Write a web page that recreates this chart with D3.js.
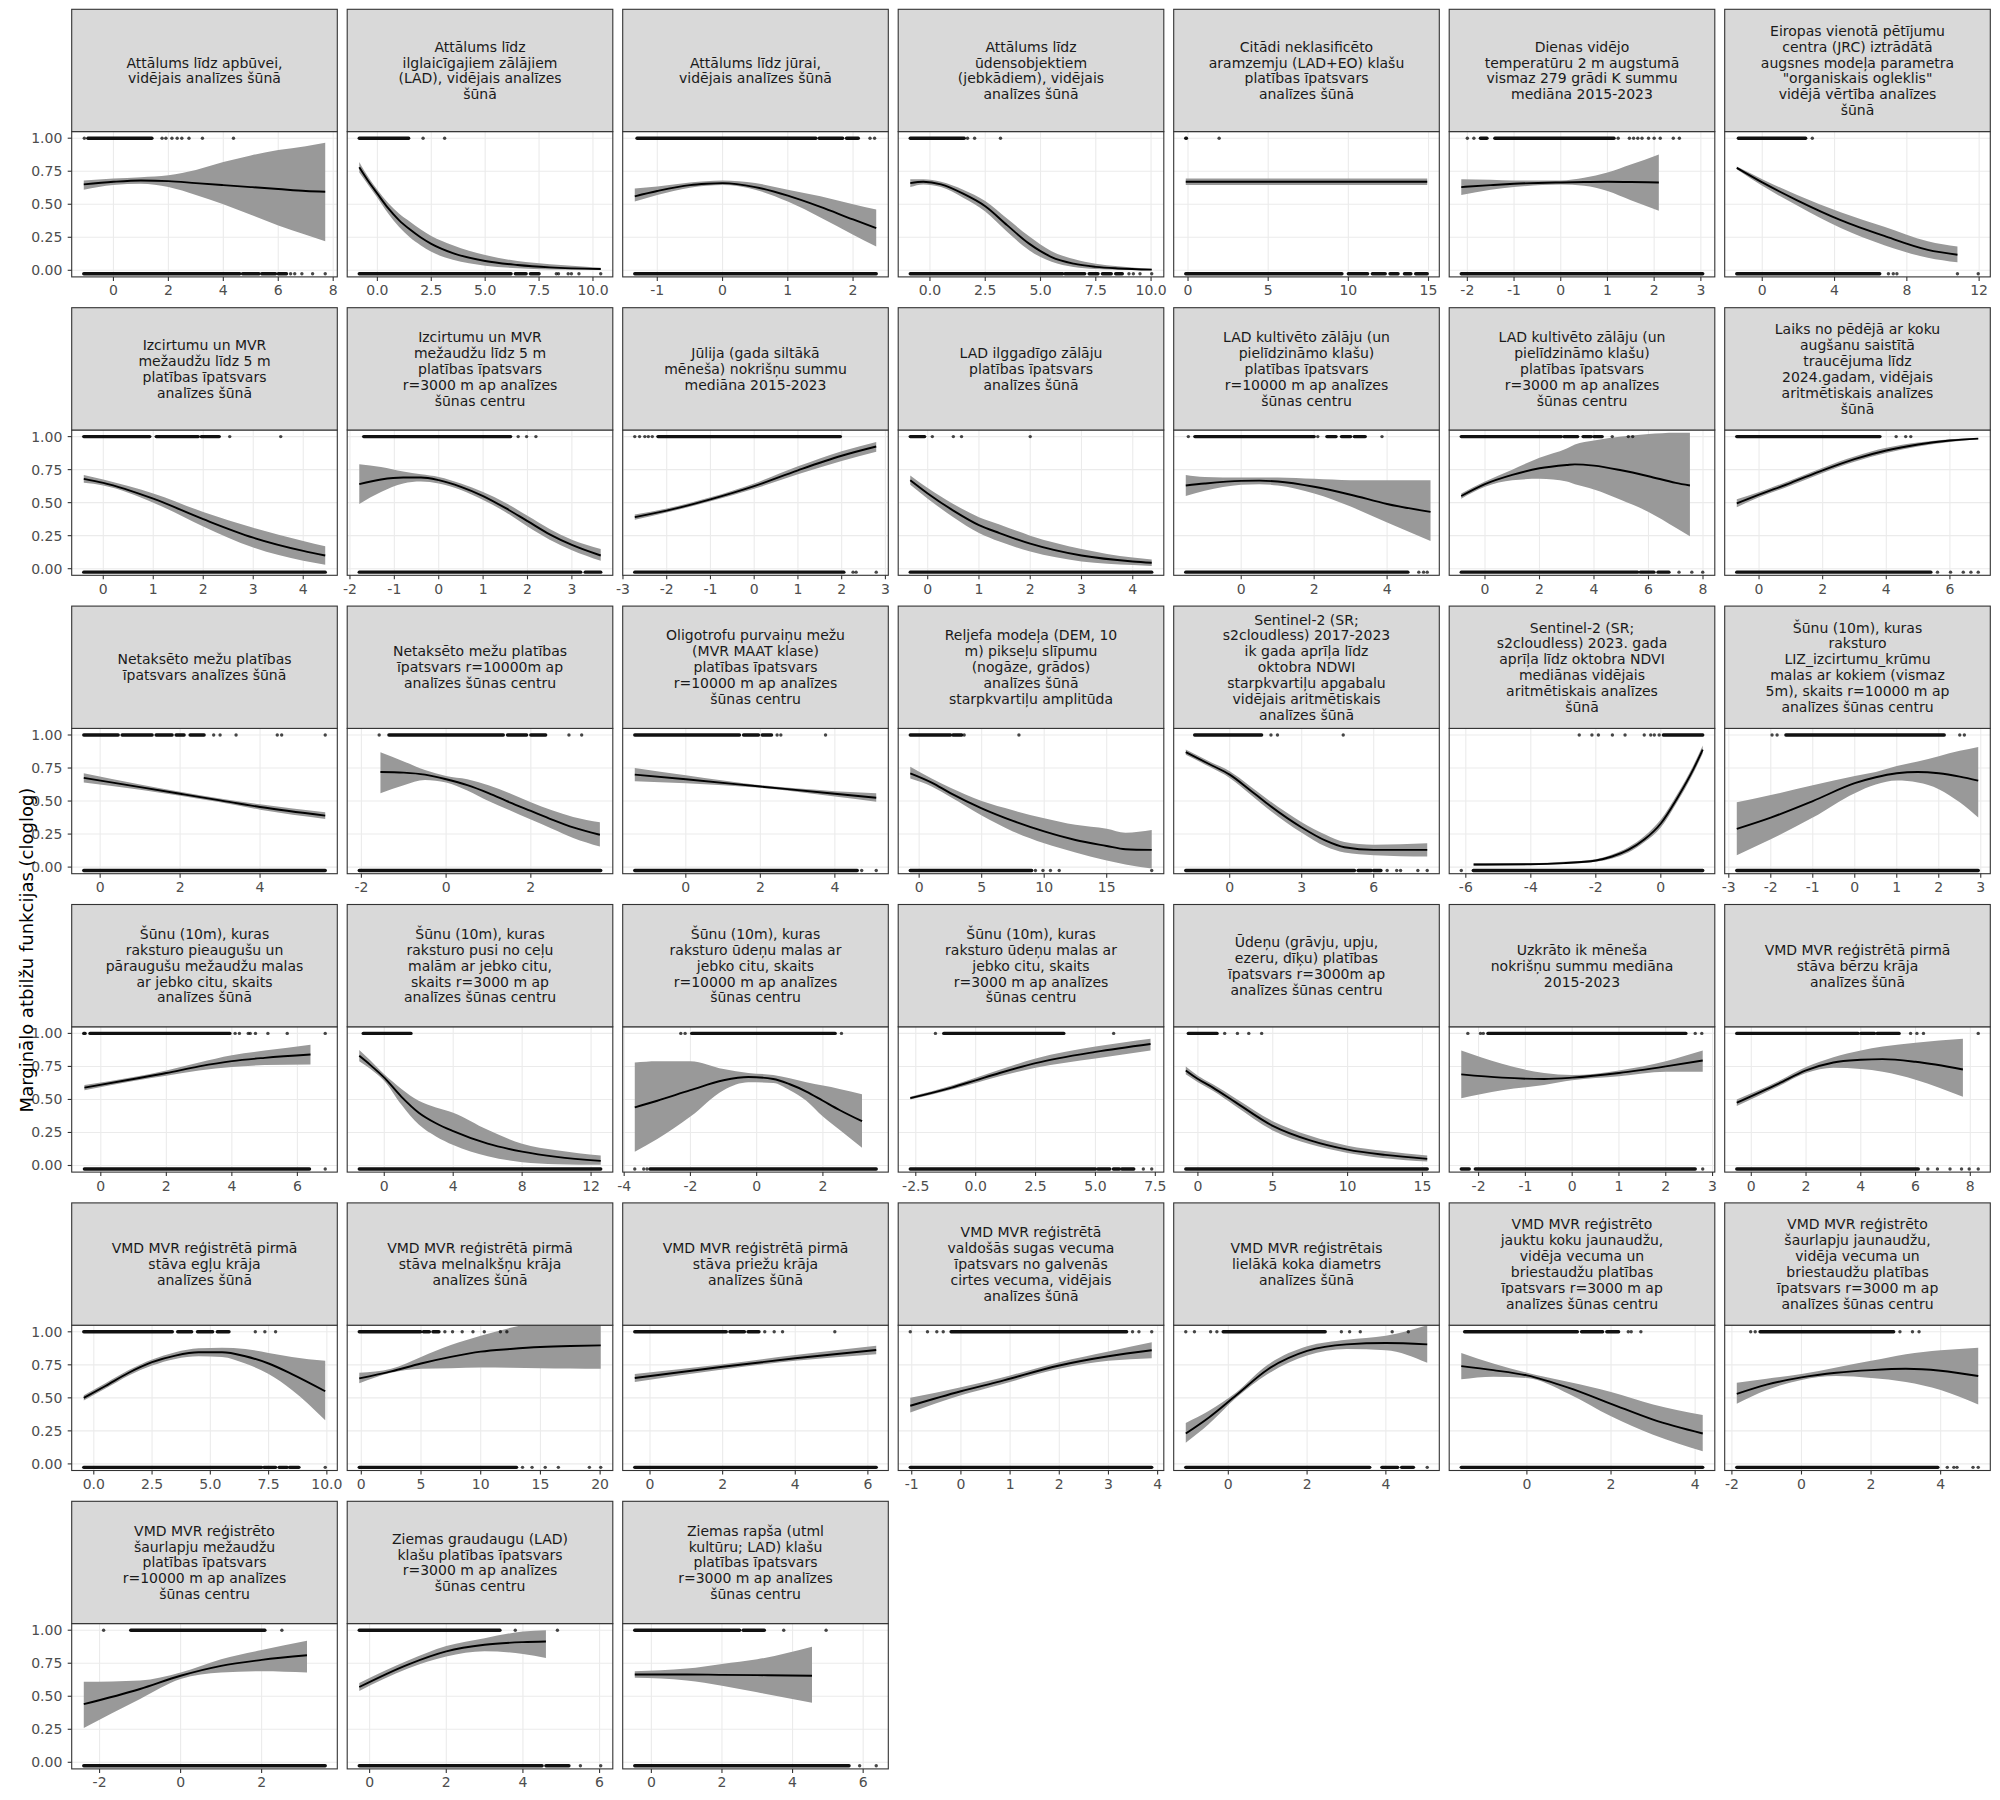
<!DOCTYPE html>
<html><head><meta charset="utf-8">
<script src="https://cdn.jsdelivr.net/npm/d3@7"></script>
<style>body{margin:0;background:#fff} svg text{font-family:"DejaVu Sans",sans-serif}</style>
</head><body>
<script>
const facetTitles = [
"Attālums līdz apbūvei,\nvidējais analīzes šūnā",
"Attālums līdz\nilglaicīgajiem zālājiem\n(LAD), vidējais analīzes\nšūnā",
"Attālums līdz jūrai,\nvidējais analīzes šūnā",
"Attālums līdz\nūdensobjektiem\n(jebkādiem), vidējais\nanalīzes šūnā",
"Citādi neklasificēto\naramzemju (LAD+EO) klašu\nplatības īpatsvars\nanalīzes šūnā",
"Dienas vidējo\ntemperatūru 2 m augstumā\nvismaz 279 grādi K summu\nmediāna 2015-2023",
"Eiropas vienotā pētījumu\ncentra (JRC) iztrādātā\naugsnes modeļa parametra\n\"organiskais ogleklis\"\nvidējā vērtība analīzes\nšūnā",
"Izcirtumu un MVR\nmežaudžu līdz 5 m\nplatības īpatsvars\nanalīzes šūnā",
"Izcirtumu un MVR\nmežaudžu līdz 5 m\nplatības īpatsvars\nr=3000 m ap analīzes\nšūnas centru",
"Jūlija (gada siltākā\nmēneša) nokrišņu summu\nmediāna 2015-2023",
"LAD ilggadīgo zālāju\nplatības īpatsvars\nanalīzes šūnā",
"LAD kultivēto zālāju (un\npielīdzināmo klašu)\nplatības īpatsvars\nr=10000 m ap analīzes\nšūnas centru",
"LAD kultivēto zālāju (un\npielīdzināmo klašu)\nplatības īpatsvars\nr=3000 m ap analīzes\nšūnas centru",
"Laiks no pēdējā ar koku\naugšanu saistītā\ntraucējuma līdz\n2024.gadam, vidējais\naritmētiskais analīzes\nšūnā",
"Netaksēto mežu platības\nīpatsvars analīzes šūnā",
"Netaksēto mežu platības\nīpatsvars r=10000m ap\nanalīzes šūnas centru",
"Oligotrofu purvaiņu mežu\n(MVR MAAT klase)\nplatības īpatsvars\nr=10000 m ap analīzes\nšūnas centru",
"Reljefa modeļa (DEM, 10\nm) pikseļu slīpumu\n(nogāze, grādos)\nanalīzes šūnā\nstarpkvartiļu amplitūda",
"Sentinel-2 (SR;\ns2cloudless) 2017-2023\nik gada aprīļa līdz\noktobra NDWI\nstarpkvartiļu apgabalu\nvidējais aritmētiskais\nanalīzes šūnā",
"Sentinel-2 (SR;\ns2cloudless) 2023. gada\naprīļa līdz oktobra NDVI\nmediānas vidējais\naritmētiskais analīzes\nšūnā",
"Šūnu (10m), kuras\nraksturo\nLIZ_izcirtumu_krūmu\nmalas ar kokiem (vismaz\n5m), skaits r=10000 m ap\nanalīzes šūnas centru",
"Šūnu (10m), kuras\nraksturo pieaugušu un\npāraugušu mežaudžu malas\nar jebko citu, skaits\nanalīzes šūnā",
"Šūnu (10m), kuras\nraksturo pusi no ceļu\nmalām ar jebko citu,\nskaits r=3000 m ap\nanalīzes šūnas centru",
"Šūnu (10m), kuras\nraksturo ūdeņu malas ar\njebko citu, skaits\nr=10000 m ap analīzes\nšūnas centru",
"Šūnu (10m), kuras\nraksturo ūdeņu malas ar\njebko citu, skaits\nr=3000 m ap analīzes\nšūnas centru",
"Ūdeņu (grāvju, upju,\nezeru, dīķu) platības\nīpatsvars r=3000m ap\nanalīzes šūnas centru",
"Uzkrāto ik mēneša\nnokrišņu summu mediāna\n2015-2023",
"VMD MVR reģistrētā pirmā\nstāva bērzu krāja\nanalīzes šūnā",
"VMD MVR reģistrētā pirmā\nstāva egļu krāja\nanalīzes šūnā",
"VMD MVR reģistrētā pirmā\nstāva melnalkšņu krāja\nanalīzes šūnā",
"VMD MVR reģistrētā pirmā\nstāva priežu krāja\nanalīzes šūnā",
"VMD MVR reģistrētā\nvaldošās sugas vecuma\nīpatsvars no galvenās\ncirtes vecuma, vidējais\nanalīzes šūnā",
"VMD MVR reģistrētais\nlielākā koka diametrs\nanalīzes šūnā",
"VMD MVR reģistrēto\njauktu koku jaunaudžu,\nvidēja vecuma un\nbriestaudžu platības\nīpatsvars r=3000 m ap\nanalīzes šūnas centru",
"VMD MVR reģistrēto\nšaurlapju jaunaudžu,\nvidēja vecuma un\nbriestaudžu platības\nīpatsvars r=3000 m ap\nanalīzes šūnas centru",
"VMD MVR reģistrēto\nšaurlapju mežaudžu\nplatības īpatsvars\nr=10000 m ap analīzes\nšūnas centru",
"Ziemas graudaugu (LAD)\nklašu platības īpatsvars\nr=3000 m ap analīzes\nšūnas centru",
"Ziemas rapša (utml\nkultūru; LAD) klašu\nplatības īpatsvars\nr=3000 m ap analīzes\nšūnas centru"
];

const yAxisTitle = "Marginālo atbilžu funkcijas (cloglog)";
const yTicks = [0, 0.25, 0.5, 0.75, 1];
const oneValue = 1;
const zeroValue = -0.026;

const xTicks = [
[0,2,4,6,8],[0,2.5,5,7.5,10],[-1,0,1,2],[0,2.5,5,7.5,10],[0,5,10,15],[-2,-1,0,1,2,3],[0,4,8,12],
[0,1,2,3,4],[-2,-1,0,1,2,3],[-3,-2,-1,0,1,2,3],[0,1,2,3,4],[0,2,4],[0,2,4,6,8],[0,2,4,6],
[0,2,4],[-2,0,2],[0,2,4],[0,5,10,15],[0,3,6],[-6,-4,-2,0],[-3,-2,-1,0,1,2,3],
[0,2,4,6],[0,4,8,12],[-4,-2,0,2],[-2.5,0,2.5,5,7.5],[0,5,10,15],[-2,-1,0,1,2,3],[0,2,4,6,8],
[0,2.5,5,7.5,10],[0,5,10,15,20],[0,2,4,6],[-1,0,1,2,3,4],[0,2,4],[0,2,4],[-2,0,2,4],
[-2,0,2],[0,2,4,6],[0,2,4,6]
];

const fitX = [
[-1.08,0,1,2,3,4,5,6,7,7.71],
[-0.84,-0.4,0,0.5,1,1.5,2,2.5,3.5,5,6.5,8,10.36],
[-1.345,-1,-0.5,-0.25,0,0.5,1,1.5,2,2.355],
[-0.89,-0.3,0.5,1.5,2.5,3.5,4.5,5,5.5,6.5,7.5,8.5,10.03],
[-0.14,7,14.92],
[-2.13,-1.5,-1,0,0.5,1,1.5,2.1],
[-1.41,0,1.93,4.34,6.75,9.16,10.8],
[-0.39,0,1,2,3,4,4.44],
[-1.79,-1.3,-0.8,-0.4,0,0.5,1,1.5,2,2.5,3,3.65],
[-2.73,-2,-1,0,1,2,2.79],
[-0.34,0,0.5,1,1.4,2,3,4,4.37],
[-1.52,-1,0,0.5,1,2,3,4,5.19],
[-0.87,0,1,2,3,3.3,4,5,6,7,7.52],
[-0.7,0,1,2,3,4,5,6,6.89],
[-0.41,1,2,3,4,5.63],
[-1.55,-1,-0.5,0,0.5,1,1.5,2,2.5,3,3.63],
[-1.37,0,2,4,5.11],
[-0.71,1,2.5,5,7.5,10,12.5,15,16.5,18.6],
[-1.83,-0.8,0,0.8,1.6,3,4,4.78,6,8.23],
[-5.76,-4,-3,-2,-1.5,-1,-0.5,0,0.5,1,1.29],
[-2.81,-2,-1,0,0.5,1,1.5,2,2.5,2.94],
[-0.5,1,2,3,4,5,6.4],
[-1.45,-0.8,0,1,2,3,4,6,8,10,12.56],
[-3.68,-3,-2,-1,-0.25,0.5,1,1.5,2,2.5,3.18],
[-2.73,-1,0,1,2.5,5,7.3],
[-0.81,0,1,2.5,5,7.5,10,12.5,15.32],
[-2.37,-1.5,-0.6,0,1,2,2.79],
[-0.53,1,2,3,4,4.8,6,7.73],
[-0.43,0.5,1.5,2.5,3.5,4.5,5.5,6.5,7.5,8.5,9.93],
[-0.17,2.5,5,7.5,10,12.5,15,17.5,20.05],
[-0.42,2,4,6.23],
[-1.03,0,0.8,2,3,3.88],
[-1.08,-0.5,0.2,1,2,3,4,5.05],
[-1.56,-0.8,0,1,2,3,4.18],
[-1.86,-1,0,1,2,3,4,5.08],
[-2.39,-1,0,1,2,3.12],
[-0.27,1,2,3,4,4.6],
[-0.47,1,2,3,4.55]
];

const fitY = [
[0.65,0.67,0.68,0.675,0.66,0.645,0.63,0.615,0.60,0.595],
[0.78,0.67,0.58,0.47,0.38,0.31,0.25,0.20,0.13,0.07,0.04,0.022,0.01],
[0.56,0.60,0.645,0.655,0.66,0.63,0.565,0.48,0.385,0.32],
[0.66,0.67,0.65,0.58,0.485,0.34,0.20,0.145,0.10,0.05,0.026,0.014,0.005],
[0.67,0.67,0.67],
[0.63,0.645,0.655,0.665,0.668,0.67,0.668,0.665],
[0.775,0.665,0.53,0.38,0.26,0.155,0.118],
[0.68,0.65,0.53,0.375,0.235,0.135,0.10],
[0.64,0.675,0.69,0.69,0.67,0.62,0.55,0.46,0.36,0.26,0.18,0.10],
[0.39,0.44,0.525,0.625,0.745,0.855,0.925],
[0.67,0.57,0.44,0.33,0.27,0.19,0.10,0.055,0.045],
[0.63,0.645,0.665,0.667,0.66,0.62,0.56,0.49,0.43],
[0.55,0.64,0.71,0.76,0.785,0.79,0.78,0.745,0.70,0.65,0.63],
[0.495,0.56,0.65,0.745,0.83,0.895,0.94,0.97,0.985],
[0.675,0.605,0.555,0.505,0.455,0.39],
[0.72,0.715,0.70,0.665,0.62,0.56,0.49,0.425,0.36,0.30,0.245],
[0.70,0.665,0.61,0.555,0.525],
[0.71,0.64,0.56,0.445,0.35,0.27,0.205,0.16,0.135,0.13],
[0.87,0.775,0.70,0.59,0.475,0.30,0.20,0.15,0.13,0.13],
[0.02,0.022,0.03,0.05,0.08,0.13,0.21,0.33,0.52,0.74,0.89],
[0.29,0.375,0.50,0.635,0.68,0.71,0.72,0.71,0.685,0.655],
[0.59,0.655,0.70,0.75,0.79,0.815,0.84],
[0.83,0.76,0.665,0.52,0.40,0.32,0.26,0.165,0.105,0.065,0.035],
[0.44,0.49,0.57,0.645,0.67,0.655,0.615,0.56,0.49,0.42,0.335],
[0.51,0.59,0.645,0.70,0.775,0.86,0.92],
[0.72,0.655,0.59,0.48,0.30,0.19,0.12,0.08,0.05],
[0.69,0.665,0.655,0.665,0.70,0.75,0.795],
[0.475,0.62,0.72,0.78,0.80,0.805,0.785,0.727],
[0.50,0.59,0.69,0.77,0.82,0.845,0.845,0.815,0.76,0.68,0.55],
[0.647,0.70,0.76,0.81,0.85,0.87,0.885,0.893,0.897],
[0.65,0.735,0.80,0.862],
[0.44,0.55,0.625,0.745,0.815,0.86],
[0.23,0.35,0.52,0.715,0.855,0.905,0.915,0.905],
[0.74,0.71,0.67,0.575,0.455,0.335,0.23],
[0.53,0.60,0.655,0.69,0.71,0.72,0.705,0.665],
[0.44,0.555,0.655,0.73,0.775,0.81],
[0.57,0.74,0.84,0.89,0.91,0.915],
[0.665,0.665,0.662,0.66,0.655]
];

const fitLo = [
[0.61,0.645,0.655,0.63,0.57,0.50,0.42,0.34,0.27,0.22],
[0.74,0.64,0.55,0.43,0.33,0.25,0.19,0.14,0.08,0.035,0.015,0.006,0.002],
[0.52,0.57,0.625,0.64,0.645,0.61,0.52,0.40,0.27,0.18],
[0.63,0.65,0.63,0.55,0.445,0.29,0.15,0.10,0.065,0.025,0.01,0.004,0.0],
[0.645,0.645,0.645],
[0.57,0.61,0.63,0.65,0.64,0.60,0.53,0.45],
[0.765,0.64,0.49,0.32,0.19,0.095,0.06],
[0.65,0.63,0.50,0.32,0.16,0.06,0.03],
[0.49,0.58,0.645,0.66,0.645,0.595,0.52,0.43,0.32,0.22,0.14,0.06],
[0.37,0.425,0.51,0.605,0.715,0.815,0.885],
[0.635,0.53,0.39,0.27,0.205,0.13,0.055,0.028,0.02],
[0.55,0.59,0.635,0.64,0.63,0.57,0.47,0.35,0.21],
[0.53,0.62,0.67,0.68,0.66,0.64,0.60,0.52,0.43,0.31,0.245],
[0.465,0.54,0.63,0.725,0.81,0.875,0.925,0.96,0.98],
[0.64,0.585,0.54,0.49,0.435,0.365],
[0.56,0.62,0.66,0.64,0.58,0.50,0.43,0.36,0.29,0.22,0.155],
[0.65,0.635,0.60,0.535,0.495],
[0.67,0.61,0.53,0.39,0.27,0.18,0.11,0.05,0.02,-0.01],
[0.85,0.755,0.675,0.56,0.44,0.26,0.155,0.11,0.09,0.08],
[0.01,0.015,0.022,0.04,0.065,0.11,0.19,0.30,0.49,0.71,0.86],
[0.09,0.21,0.375,0.56,0.625,0.655,0.64,0.59,0.49,0.375],
[0.57,0.64,0.68,0.72,0.745,0.76,0.765],
[0.79,0.73,0.64,0.46,0.31,0.22,0.155,0.07,0.025,0.01,0.005],
[0.105,0.20,0.37,0.57,0.63,0.625,0.57,0.49,0.37,0.27,0.135],
[0.50,0.575,0.625,0.675,0.74,0.81,0.87],
[0.69,0.63,0.565,0.45,0.265,0.16,0.095,0.055,0.03],
[0.51,0.57,0.61,0.645,0.675,0.71,0.71],
[0.45,0.60,0.70,0.74,0.73,0.71,0.65,0.52],
[0.48,0.57,0.67,0.745,0.795,0.815,0.81,0.76,0.68,0.56,0.33],
[0.61,0.69,0.72,0.725,0.73,0.728,0.725,0.722,0.72],
[0.62,0.715,0.78,0.83],
[0.39,0.52,0.60,0.72,0.78,0.80],
[0.16,0.30,0.50,0.68,0.82,0.87,0.86,0.765],
[0.64,0.66,0.65,0.53,0.36,0.22,0.095],
[0.455,0.56,0.635,0.665,0.65,0.62,0.56,0.45],
[0.26,0.48,0.63,0.68,0.69,0.68],
[0.54,0.71,0.80,0.84,0.82,0.79],
[0.64,0.62,0.58,0.53,0.45]
];

const fitHi = [
[0.68,0.695,0.705,0.72,0.76,0.82,0.87,0.91,0.94,0.965],
[0.82,0.70,0.61,0.51,0.43,0.37,0.31,0.26,0.19,0.115,0.07,0.045,0.02],
[0.62,0.635,0.665,0.675,0.68,0.66,0.61,0.56,0.50,0.46],
[0.69,0.69,0.67,0.61,0.525,0.39,0.255,0.195,0.145,0.085,0.05,0.03,0.012],
[0.695,0.695,0.695],
[0.69,0.685,0.68,0.68,0.70,0.74,0.80,0.877],
[0.785,0.69,0.57,0.44,0.33,0.22,0.18],
[0.71,0.675,0.57,0.43,0.31,0.21,0.17],
[0.79,0.77,0.735,0.715,0.695,0.645,0.58,0.50,0.40,0.30,0.22,0.15],
[0.41,0.455,0.54,0.645,0.775,0.89,0.96],
[0.705,0.61,0.49,0.39,0.335,0.25,0.15,0.085,0.07],
[0.71,0.695,0.69,0.69,0.69,0.68,0.67,0.67,0.67],
[0.57,0.66,0.75,0.84,0.91,0.94,0.97,1.0,1.02,1.03,1.03],
[0.525,0.58,0.67,0.765,0.85,0.915,0.955,0.98,0.99],
[0.71,0.625,0.57,0.52,0.475,0.415],
[0.87,0.80,0.735,0.69,0.665,0.62,0.56,0.49,0.43,0.38,0.34],
[0.75,0.695,0.62,0.575,0.56],
[0.76,0.67,0.60,0.50,0.43,0.37,0.32,0.29,0.26,0.28],
[0.89,0.795,0.725,0.62,0.51,0.34,0.245,0.19,0.17,0.18],
[0.03,0.03,0.04,0.06,0.095,0.15,0.235,0.36,0.55,0.77,0.92],
[0.49,0.545,0.62,0.69,0.72,0.765,0.80,0.84,0.88,0.91],
[0.61,0.67,0.72,0.78,0.835,0.87,0.915],
[0.875,0.795,0.69,0.58,0.49,0.44,0.40,0.27,0.165,0.115,0.075],
[0.78,0.79,0.79,0.73,0.70,0.685,0.66,0.63,0.605,0.58,0.54],
[0.52,0.605,0.665,0.725,0.81,0.90,0.96],
[0.75,0.68,0.615,0.51,0.335,0.225,0.15,0.11,0.075],
[0.87,0.77,0.70,0.685,0.72,0.79,0.87],
[0.50,0.64,0.745,0.82,0.87,0.90,0.93,0.96],
[0.52,0.61,0.71,0.79,0.845,0.875,0.88,0.87,0.84,0.81,0.78],
[0.69,0.72,0.81,0.90,0.97,1.03,1.07,1.08,1.08],
[0.68,0.755,0.825,0.895],
[0.50,0.58,0.65,0.77,0.85,0.92],
[0.31,0.40,0.54,0.75,0.89,0.94,0.97,1.05],
[0.84,0.76,0.69,0.62,0.545,0.45,0.37],
[0.615,0.645,0.68,0.73,0.78,0.83,0.86,0.88],
[0.61,0.62,0.68,0.78,0.85,0.92],
[0.60,0.77,0.88,0.94,0.99,1.0],
[0.69,0.71,0.745,0.78,0.875]
];

// observed outcomes: dense stretches of overlapping points (x ranges) and isolated points
const onesRuns = [
[[-0.93,1.4]],[[-0.84,1.45]],[[-1.31,1.43],[1.48,1.84],[1.9,2.08]],[[-0.89,1.55]],[[-0.14,-0.1]],
[[-1.72,-1.58],[-1.41,1.14]],[[-1.32,2.4]],
[[-0.39,0.93],[1.06,1.9],[1.96,2.32]],[[-1.69,1.62]],[[-2.2,1.97]],[[-0.34,-0.06]],
[[-1.27,2.0],[2.35,2.6],[2.75,3.0],[3.1,3.4]],[[-0.87,2.8],[2.9,3.4],[3.6,3.9],[4.0,4.3]],[[-0.7,3.8]],
[[-0.41,0.45],[0.55,1.3],[1.4,1.8],[1.9,2.1],[2.25,2.6]],[[-1.35,1.35],[1.45,1.9],[2.0,2.35]],
[[-1.37,1.44],[1.55,1.95],[2.05,2.3]],[[-0.71,2.5],[2.7,3.4]],[[-1.46,1.33]],[[0.08,1.29]],[[-1.64,2.13]],
[[-0.52,-0.48],[-0.33,3.94]],[[-1.22,1.55]],[[-1.96,2.37]],[[-1.33,3.68]],[[-0.64,1.28]],[[-1.8,2.43]],
[[-0.53,3.9],[4.0,4.5],[4.6,5.4]],
[[-0.43,3.37],[3.6,4.2],[4.45,5.1],[5.3,5.8]],[[-0.17,4.97],[5.2,5.7],[6.0,6.5]],[[-0.42,2.1],[2.2,2.6],[2.7,3.0]],
[[-0.2,3.37]],[[-0.13,2.46]],[[-1.48,1.2],[1.3,1.8],[1.9,2.18]],[[-1.19,2.65]],
[[-1.23,2.08]],[[-0.27,3.4]],[[-0.47,2.5],[2.6,3.2]]
];
const onesDots = [
[-1.06,1.77,1.91,2.13,2.32,2.49,2.75,3.24,4.37],[2.12,3.12],[2.26,2.33],[1.7,2.02,3.19],[1.94],
[-2.0,-1.86,1.23,1.47,1.56,1.65,1.74,1.88,2.0,2.13,2.41,2.54],[2.77],
[2.53,3.55],[1.79,1.98,2.19],[-2.73,-2.62,-2.5,-2.42,-2.33],[0.09,0.5,0.66,2.0],[-1.45,2.1,3.86],
[4.67,5.26,5.42],[4.31,4.61,4.77],
[2.84,3.0,3.4,4.43,4.54,5.63],[-1.58,2.9,3.2],[2.45,2.55,3.75],[3.6,7.98],[1.72,1.99,4.73],
[-2.51,-2.12,-1.92,-1.49,-1.1,-0.51,-0.31,-0.2,-0.05],[-1.97,-1.85,2.5,2.61],
[4.1,4.23,4.5,4.56,4.72,5.1,5.69,6.85],[],[-2.29,-2.16,2.56],[-1.68,5.76],[1.79,2.64,3.4,4.26],
[-2.23,-1.96,-1.9,2.63,2.77],[5.82,6.05,6.29,8.29],
[6.93,7.34,7.8],[7.0,7.64,8.45,9.35,10.3,11.65,12.19],[3.16,3.42,3.65,5.09],
[-1.03,-0.68,-0.49,-0.36,3.49,3.62,3.88],[-1.08,-0.86,-0.45,-0.29,2.87,3.08,3.35,4.16,4.57],
[2.41,2.48,2.71],[-1.46,-1.33,2.83,3.19,3.38],
[-1.9,2.5],[3.8,4.9],[3.75,4.95]
];
const zerosRuns = [
[[-1.08,4.6],[4.7,5.3],[5.4,5.9],[6.0,6.3]],[[-0.84,6.2],[6.4,6.9],[7.1,7.5]],[[-1.345,2.355]],
[[-0.89,6.0],[6.1,7.0],[7.2,7.6],[7.8,8.2],[8.4,8.7]],
[[-0.14,9.6],[10.0,11.2],[11.5,12.3],[12.6,13.1],[13.5,13.9],[14.2,14.92]],[[-2.13,3.04]],[[-1.41,6.5]],
[[-0.39,4.44]],[[-1.79,3.2],[3.3,3.65]],[[-2.73,2.05]],[[-0.34,4.37]],[[-1.52,4.57]],
[[-0.87,5.6],[5.7,6.2],[6.35,6.75]],[[-0.7,5.4]],
[[-0.41,5.63]],[[-2.05,3.65]],[[-1.37,4.6]],[[-0.71,9.0]],[[-1.83,5.2],[5.35,5.9],[6.0,6.3]],
[[-5.77,1.29]],[[-2.81,2.94]],
[[-0.5,6.37]],[[-1.45,12.56]],[[-3.22,3.61]],[[-2.73,5.0],[5.1,5.6],[5.75,6.0],[6.1,6.6]],
[[-0.81,15.32]],[[-2.37,-2.2],[-2.07,2.63]],[[-0.53,6.1]],
[[-0.43,7.2],[7.3,7.8],[7.95,8.3],[8.4,8.8]],[[-0.17,13.0]],[[-0.42,6.23]],[[-1.03,3.88]],
[[-1.08,3.59],[3.9,4.3],[4.4,4.7]],[[-1.56,4.18]],[[-1.86,3.92]],
[[-2.39,3.57]],[[-0.27,4.5],[4.6,5.2]],[[-0.47,5.6]]
];
const zerosDots = [
[6.45,6.6,6.86,7.25,7.71],[8.3,8.4,8.85,9.0,9.35,10.36],[],[9.0,9.2,9.5,10.03],[],[],
[6.98,7.25,7.45,10.8,11.95],
[],[],[2.26,2.33,2.79],[],[4.87,5.0,5.1],[7.12,7.59,7.99],[5.61,6.02,6.42,6.66,6.89],
[],[],[4.72,5.11],[9.3,9.9,10.5,11.2,18.6],[6.56,6.96,7.12,7.84,8.23],[-6.14],[],
[6.85],[],[-3.68,-3.41,-3.31],[7.0,7.35],[],[2.79],[6.45,6.8,7.26,7.68,7.96,8.29],
[9.93],[13.5,14.3,15.4,16.5,19.1,20.05],[],[],[5.05],[],[4.19,4.38,4.47,4.93,5.08],
[],[5.5,6.03],[5.9,6.37]
];

// ---------- layout ----------
const W = 2000, H = 1800, NCOL = 7;
const L = {left: 71.7, colPitch: 275.5, panelW: 265.6, top: 9.3, rowPitch: 298.4, stripH: 122.3, panelH: 145.3};
const FS = 14, LINE_H = 15.9;

const svg = d3.select("body").append("svg").attr("width", W).attr("height", H)
  .style("background", "#fff");

const defs = svg.append("defs");

facetTitles.forEach((title, i) => {
  const col = i % NCOL, row = Math.floor(i / NCOL);
  const px = L.left + col * L.colPitch;
  const sy = L.top + row * L.rowPitch;
  const py = sy + L.stripH;

  const allX = [...onesRuns[i].flat(), ...zerosRuns[i].flat(), ...onesDots[i], ...zerosDots[i]];
  const [e0, e1] = d3.extent(allX);
  const pad = (e1 - e0) * 0.05;
  const x = d3.scaleLinear().domain([e0 - pad, e1 + pad]).range([px, px + L.panelW]);
  const y = d3.scaleLinear().domain([-0.05, 1.05]).range([py + L.panelH, py]);

  const g = svg.append("g");
  g.append("rect").attr("x", px).attr("y", py).attr("width", L.panelW).attr("height", L.panelH).attr("fill", "#fff");

  // grid
  g.selectAll(".gx").data(xTicks[i]).join("line")
    .attr("x1", d => x(d)).attr("x2", d => x(d)).attr("y1", py).attr("y2", py + L.panelH)
    .attr("stroke", "#EBEBEB").attr("stroke-width", 1.1);
  g.selectAll(".gy").data(yTicks).join("line")
    .attr("x1", px).attr("x2", px + L.panelW).attr("y1", d => y(d)).attr("y2", d => y(d))
    .attr("stroke", "#EBEBEB").attr("stroke-width", 1.1);

  const cid = "clip" + i;
  defs.append("clipPath").attr("id", cid).append("rect")
    .attr("x", px).attr("y", py).attr("width", L.panelW).attr("height", L.panelH);
  const pg = g.append("g").attr("clip-path", `url(#${cid})`);

  const pts = fitX[i].map((xv, k) => ({x: xv, y: fitY[i][k], lo: fitLo[i][k], hi: fitHi[i][k]}));
  const area = d3.area().x(d => x(d.x)).y0(d => y(d.lo)).y1(d => y(d.hi)).curve(d3.curveMonotoneX);
  const line = d3.line().x(d => x(d.x)).y(d => y(d.y)).curve(d3.curveMonotoneX);
  pg.append("path").attr("d", area(pts)).attr("fill", "#999999");
  pg.append("path").attr("d", line(pts)).attr("fill", "none").attr("stroke", "#000").attr("stroke-width", 1.9);

  // observations
  const obs = [[onesRuns[i], onesDots[i], oneValue], [zerosRuns[i], zerosDots[i], zeroValue]];
  obs.forEach(([runs, dots, v]) => {
    pg.append("g").selectAll("line").data(runs).join("line")
      .attr("x1", d => x(d[0])).attr("x2", d => x(d[1])).attr("y1", y(v)).attr("y2", y(v))
      .attr("stroke", "#111").attr("stroke-width", 3.4).attr("stroke-linecap", "round");
    pg.append("g").selectAll("circle").data(dots).join("circle")
      .attr("cx", d => x(d)).attr("cy", y(v)).attr("r", 1.7)
      .attr("fill", "#000").attr("fill-opacity", 0.72);
  });

  // border
  g.append("rect").attr("x", px).attr("y", py).attr("width", L.panelW).attr("height", L.panelH)
    .attr("fill", "none").attr("stroke", "#333333").attr("stroke-width", 1.1);

  // strip
  g.append("rect").attr("x", px).attr("y", sy).attr("width", L.panelW).attr("height", L.stripH)
    .attr("fill", "#D9D9D9").attr("stroke", "#333333").attr("stroke-width", 1.1);
  const lines = title.split("\n");
  const cy = sy + L.stripH / 2;
  g.append("g").selectAll("text").data(lines).join("text")
    .attr("x", px + L.panelW / 2)
    .attr("y", (d, k) => cy + (k - (lines.length - 1) / 2) * LINE_H)
    .attr("dominant-baseline", "central").attr("text-anchor", "middle")
    .attr("font-size", FS).attr("fill", "#1A1A1A").text(d => d);

  // x axis
  const dec = xTicks[i].some(t => !Number.isInteger(t)) ? 1 : 0;
  const yb = py + L.panelH;
  g.selectAll(".tx").data(xTicks[i]).join("line")
    .attr("x1", d => x(d)).attr("x2", d => x(d)).attr("y1", yb).attr("y2", yb + 4)
    .attr("stroke", "#333333").attr("stroke-width", 1.1);
  g.selectAll(".lx").data(xTicks[i]).join("text")
    .attr("x", d => x(d)).attr("y", yb + 18.5).attr("text-anchor", "middle")
    .attr("font-size", FS).attr("fill", "#4D4D4D").text(d => d.toFixed(dec));

  // y axis on first column
  if (col === 0) {
    g.selectAll(".ty").data(yTicks).join("line")
      .attr("x1", px - 4).attr("x2", px).attr("y1", d => y(d)).attr("y2", d => y(d))
      .attr("stroke", "#333333").attr("stroke-width", 1.1);
    g.selectAll(".ly").data(yTicks).join("text")
      .attr("x", px - 9.4).attr("y", d => y(d)).attr("dominant-baseline", "central")
      .attr("text-anchor", "end").attr("font-size", FS).attr("fill", "#4D4D4D")
      .text(d => d.toFixed(2));
  }
});

svg.append("text")
  .attr("transform", "translate(33,950) rotate(-90)")
  .attr("text-anchor", "middle").attr("font-size", 18).attr("fill", "#000")
  .text(yAxisTitle);
</script>
</body></html>
